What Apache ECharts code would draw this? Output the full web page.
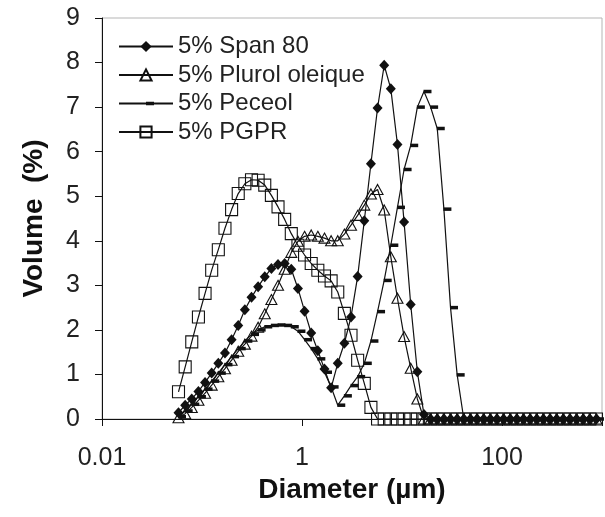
<!DOCTYPE html>
<html><head><meta charset="utf-8">
<script src="https://cdn.jsdelivr.net/npm/echarts@6/dist/echarts.min.js"></script>
<style>html,body{margin:0;padding:0;background:#fff}#c{width:605px;height:517px}</style>
</head><body><div id="c"></div>
<script>
// Particle size classes (µm)
const diameters = [0.0582,0.0679,0.0790,0.0921,0.1073,0.1250,0.1456,0.1697,0.1977,0.2303,
  0.2683,0.3126,0.3641,0.4242,0.4942,0.5758,0.6708,0.7815,0.9108,1.061,
  1.236,1.440,1.678,1.955,2.278,2.653,3.091,3.602,4.196,4.889,
  5.695,6.636,7.731,9.007,10.49,12.22,14.24,16.59,19.33,22.52,
  26.24,30.57,35.62,41.50,48.35,56.33,65.62,76.45,89.07,103.7,
  120.9,140.8,164.1,191.1,222.7,259.4,302.2,352.1,410.2,477.9,
  556.8,648.7,755.7,880.4];

// Volume (%)
const span80 = [0.14,0.31,0.45,0.62,0.82,1.03,1.25,1.48,1.78,2.10,
  2.45,2.73,2.97,3.19,3.38,3.47,3.49,3.36,2.93,2.42,
  1.93,1.53,1.12,0.70,1.25,1.70,2.29,3.20,4.45,5.73,
  6.98,7.94,7.41,6.16,4.42,2.57,1.06,0.10,
  0,0,0,0,0,0,0,0,0,0, 0,0,0,0,0,0,0,0,0,0, 0,0,0,0,0,0];
const plurol = [0.03,0.12,0.26,0.42,0.58,0.76,0.95,1.13,1.32,1.52,
  1.68,1.86,2.06,2.36,2.68,3.00,3.36,3.74,3.99,4.10,
  4.13,4.10,4.06,4.00,4.00,4.15,4.35,4.57,4.80,5.05,
  5.15,4.69,3.64,2.71,1.85,1.14,0.45,
  0,0,0,0,0,0,0,0,0,0, 0,0,0,0,0,0,0,0,0,0, 0,0,0,0,0,0,0];
const peceol = [0.05,0.18,0.33,0.50,0.67,0.85,1.03,1.22,1.40,1.58,
  1.75,1.90,2.00,2.07,2.10,2.11,2.10,2.07,1.97,1.78,
  1.58,1.35,1.05,0.72,0.31,0.52,0.75,0.95,1.25,1.75,
  2.41,3.11,3.90,4.75,5.60,6.14,7.00,7.35,7.00,6.52,
  4.71,2.50,0.99,
  0,0,0,0,0,0,0,0,0,0, 0,0,0,0,0,0,0,0,0,0, 0];
const pgpr = [0.61,1.17,1.73,2.29,2.82,3.34,3.80,4.28,4.70,5.06,
  5.28,5.37,5.36,5.25,5.02,4.76,4.48,4.16,3.90,3.68,
  3.49,3.34,3.21,3.10,2.85,2.37,1.88,1.32,0.80,0.26,
  0,0,0,0,0,0,0,0,0,0, 0,0,0,0,0,0,0,0,0,0, 0,0,0,0,0,0,0,0,0,0, 0,0,0,0];

const seriesNames = ['5% Span 80','5% Plurol oleique','5% Peceol','5% PGPR'];
const xTickLabels = ['0.01','1','100'];
const yTickLabels = ['0','1','2','3','4','5','6','7','8','9'];

const font = '"Liberation Sans", Arial, sans-serif';
const ink = '#111';
// legend icon for the dash-marker series: line with a short dash, in a 54x14 box
const dashLegendIcon = 'path://M0,0L0.01,0L0,0.01Z M54,14L53.99,14L54,13.99Z ' +
  'M0,6L54,6L54,8L0,8Z M27,5.2L35,5.2L35,8.8L27,8.8Z';

function mk(name, vals, symbol, size, fill, offset) {
  return {
    name, type: 'line', data: diameters.map((d, i) => [d, vals[i]]),
    symbol, symbolSize: size, symbolOffset: offset || [0, 0],
    showSymbol: true, clip: false, animation: false,
    lineStyle: { color: ink, width: 1.2 },
    itemStyle: { color: fill, borderColor: ink, borderWidth: fill === ink ? 0 : 1.1 },
    emphasis: { disabled: true }
  };
}

const chart = echarts.init(document.getElementById('c'), null, { renderer: 'canvas' });
chart.setOption({
  animation: false,
  backgroundColor: '#fff',
  grid: { left: 102, right: 2, top: 18, bottom: 98, show: true, borderColor: '#b5b5b5', borderWidth: 1 },
  xAxis: {
    type: 'log', logBase: 100, min: 0.01, max: 1000,
    name: 'Diameter (µm)', nameLocation: 'middle', nameGap: 57,
    nameTextStyle: { fontFamily: font, fontWeight: 'bold', fontSize: 28, color: ink },
    axisLine: { show: true, lineStyle: { color: ink, width: 1 } },
    axisTick: { show: true, length: 7, lineStyle: { color: ink } },
    minorTick: { show: false },
    splitLine: { show: false },
    axisLabel: {
      fontFamily: font, fontSize: 25, color: '#222', margin: 27,
      formatter: v => xTickLabels[Math.round(Math.log10(v) / 2) + 1]
    }
  },
  yAxis: {
    type: 'value', min: 0, max: 9, interval: 1,
    name: 'Volume  (%)', nameLocation: 'middle', nameGap: 54, nameRotate: 90,
    nameTextStyle: { fontFamily: font, fontWeight: 'bold', fontSize: 28, color: ink },
    axisLine: { show: true, lineStyle: { color: ink, width: 1 } },
    axisTick: { show: true, length: 7, lineStyle: { color: ink } },
    splitLine: { show: false },
    axisLabel: {
      fontFamily: font, fontSize: 25, color: '#222', margin: 22,
      formatter: v => yTickLabels[Math.round(v)]
    }
  },
  legend: {
    orient: 'vertical', left: 113, top: 29,
    itemWidth: 54, itemHeight: 14, itemGap: 3.5,
    textStyle: { fontFamily: font, fontSize: 24, color: '#222', lineHeight: 25 },
    data: [
      { name: seriesNames[0] },
      { name: seriesNames[1] },
      { name: seriesNames[2], icon: dashLegendIcon },
      { name: seriesNames[3] }
    ]
  },
  series: [
    mk(seriesNames[0], span80, 'diamond', [10, 11], ink),
    mk(seriesNames[1], plurol, 'triangle', [11, 10], 'rgba(255,255,255,0)'),
    mk(seriesNames[2], peceol, 'rect', [8, 3.5], ink, [3.5, 0]),
    mk(seriesNames[3], pgpr, 'rect', [12, 12], 'rgba(255,255,255,0)')
  ]
});
</script>
</body></html>
